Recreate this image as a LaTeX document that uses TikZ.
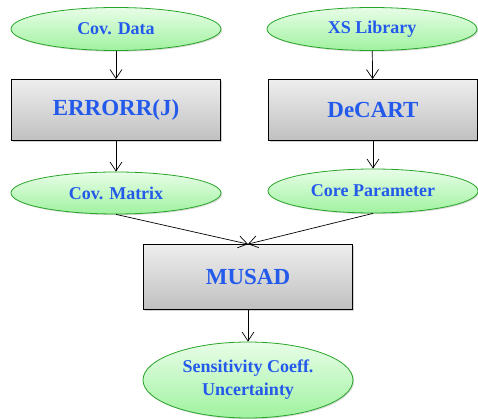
\documentclass[tikz,border=0pt]{standalone}
\usepackage{fontspec}
\setmainfont{Liberation Serif}
\usepackage{tikz}
\usepackage{xcolor}
\usetikzlibrary{shapes.geometric, arrows.meta, shadows}
\definecolor{txtblue}{RGB}{35,90,235}
\definecolor{ovalline}{RGB}{40,165,40}
\definecolor{ovaltop}{RGB}{232,253,232}
\definecolor{ovalbot}{RGB}{160,242,160}
\definecolor{boxtop}{RGB}{238,238,238}
\definecolor{boxbot}{RGB}{192,192,192}
\tikzstyle{oval} = [ellipse, draw=ovalline, line width=0.8pt, top color=ovaltop, bottom color=ovalbot, minimum width=210pt, minimum height=43pt, inner sep=0pt, text=txtblue, font=\fontsize{18}{22}\selectfont\bfseries, align=center, drop shadow={shadow xshift=1.2pt, shadow yshift=-1.2pt, opacity=0.3}]
\tikzstyle{prog} = [rectangle, draw=black, line width=0.8pt, top color=boxtop, bottom color=boxbot, minimum width=209pt, minimum height=61pt, inner sep=0pt, text=txtblue, font=\fontsize{23}{27}\selectfont\bfseries, drop shadow={shadow xshift=1.5pt, shadow yshift=-1.5pt, opacity=0.35}]
\tikzstyle{flow} = [-{Straight Barb[length=9pt, width=12pt]}, line width=0.7pt]

\begin{document}
\begin{tikzpicture}[x=1pt, y=-1pt]
    \useasboundingbox (0,0) rectangle (478,419);

    % Inputs
    \node[oval] (covdata) at (116, 29) {Cov. Data};
    \node[oval] (xslib) at (372, 29) {XS Library};

    % Processing codes
    \node[prog] (errorr) at (116, 110) {ERRORR(J)};
    \node[prog] (decart) at (373, 110) {DeCART};

    % Intermediate results
    \node[oval, minimum height=42pt] (covmat) at (116, 193) {Cov. Matrix};
    \node[oval, minimum height=44pt] (corepar) at (373, 191) {Core Parameter};

    % Sensitivity code
    \node[prog, minimum height=65pt] (musad) at (248, 277) {MUSAD};

    % Output
    \node[oval, minimum height=76pt] (sens) at (248, 380) {Sensitivity Coeff.\\[1pt]Uncertainty};

    % Connections
    \draw[flow] (covdata) -- (errorr);
    \draw[flow] (xslib) -- (decart);
    \draw[flow] (errorr) -- (covmat);
    \draw[flow] (decart) -- (corepar);
    \draw[flow] (covmat.south) -- (musad.north);
    \draw[flow] (corepar.south) -- (musad.north);
    \draw[flow] (musad) -- (sens);
\end{tikzpicture}
\end{document}
